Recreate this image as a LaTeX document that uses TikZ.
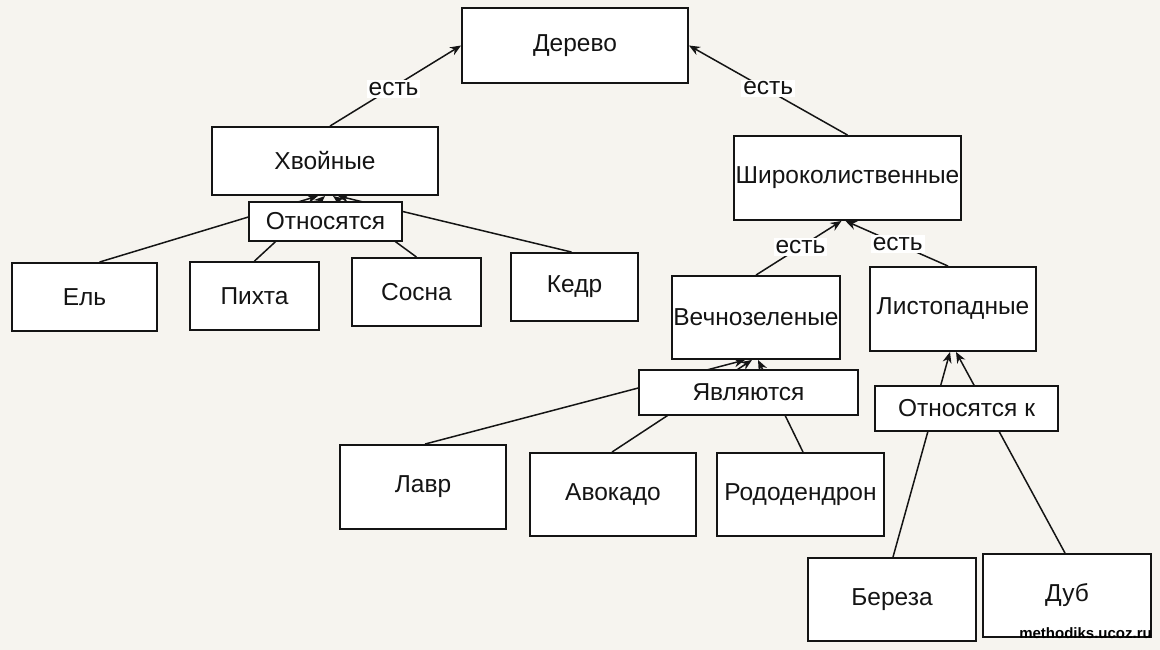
\documentclass[tikz,border=0pt]{standalone}
\usepackage{fontspec}
\setmainfont{Liberation Sans}
\usetikzlibrary{arrows.meta}
\definecolor{bg}{RGB}{246,244,239}
\definecolor{ink}{RGB}{20,20,20}
\tikzset{
  box/.style={draw=ink, line width=1.9pt, fill=white, inner sep=0pt, text=ink,
    font=\fontsize{24.5}{29}\selectfont},
  conn/.style={draw=ink, line width=1.5pt},
  arr/.style={conn, -{Stealth[length=11pt,width=9pt]}},
  lbl/.style={fill=white, inner sep=2pt, text=ink, font=\fontsize{24.5}{29}\selectfont},
  wm/.style={font=\fontsize{15}{17}\selectfont\bfseries, text=black, inner sep=0pt}
}
\begin{document}
\begin{tikzpicture}[x=1pt,y=-1pt]
\fill[bg] (0,0) rectangle (1160,650);
\useasboundingbox (0,0) rectangle (1160,650);

% boxes
\node[box, minimum width=226, minimum height=75] (de) at (575,45.5) {\raisebox{-2pt}{Дерево}};
\node[box, minimum width=226, minimum height=68] (hv) at (325,161) {Хвойные};
\node[box, minimum width=145, minimum height=68] (el) at (84.5,297) {Ель};
\node[box, minimum width=129, minimum height=68] (pi) at (254.5,296) {Пихта};
\node[box, minimum width=129, minimum height=68] (so) at (416.5,292) {Сосна};
\node[box, minimum width=127, minimum height=68] (ke) at (574.5,287) {Кедр};
\node[box, minimum width=227, minimum height=84] (sh) at (847.5,178) {Широколиственные};
\node[box, minimum width=168, minimum height=83] (ve) at (756,317.5) {Вечнозеленые};
\node[box, minimum width=166, minimum height=84] (li) at (953,309) {Листопадные};
\node[box, minimum width=166, minimum height=84] (la) at (423,487) {Лавр};
\node[box, minimum width=166, minimum height=83] (av) at (613,494.5) {Авокадо};
\node[box, minimum width=167, minimum height=83] (ro) at (800.5,494.5) {Рододендрон};
\node[box, minimum width=168, minimum height=83] (be) at (892,599.5) {Береза};
\node[box, minimum width=168, minimum height=83] (du) at (1067,595.5) {\raisebox{-2pt}{Дуб}};

% "есть" connectors
\draw[arr] ([xshift=5pt]hv.north) -- node[lbl, pos=0.485, yshift=-2pt] {есть} (de.west);
\draw[arr] (sh.north) -- node[lbl, pos=0.5, yshift=2pt] {есть} (de.east);
\draw[arr] (ve.north) -- node[lbl, pos=0.52] {есть} ([xshift=-6pt]sh.south);
\draw[arr] ([xshift=-5pt]li.north) -- node[lbl, pos=0.49] {есть} ([xshift=-2pt]sh.south);

% Хвойные children
\draw[arr] ([xshift=15pt]el.north) -- ([xshift=-7pt]hv.south);
\draw[arr] (pi.north) -- ([xshift=0pt]hv.south);
\draw[arr] (so.north) -- ([xshift=8pt]hv.south);
\draw[arr] ([xshift=-3pt]ke.north) -- ([xshift=13pt]hv.south);

% Вечнозеленые children
\draw[arr] ([xshift=2pt]la.north) -- ([xshift=-11pt]ve.south);
\draw[arr] ([xshift=-1pt]av.north) -- ([xshift=-4pt]ve.south);
\draw[arr] ([xshift=2.5pt]ro.north) -- ([xshift=2pt]ve.south);

% Листопадные children
\draw[arr] ([xshift=1pt]be.north) -- ([xshift=-3pt]li.south);
\draw[arr] ([xshift=-2pt]du.north) -- ([xshift=3pt]li.south);

% relation boxes on top
\node[box, minimum width=153, minimum height=39] (r1) at (325.5,221.5) {Относятся};
\node[box, minimum width=219, minimum height=45] (r2) at (748.5,392.5) {Являются};
\node[box, minimum width=183, minimum height=45] (r3) at (966.5,408.5) {Относятся к};

% watermark
\node[wm, anchor=east] (wmk) at (1152,633) {methodiks.ucoz.ru};
\end{tikzpicture}
\end{document}
